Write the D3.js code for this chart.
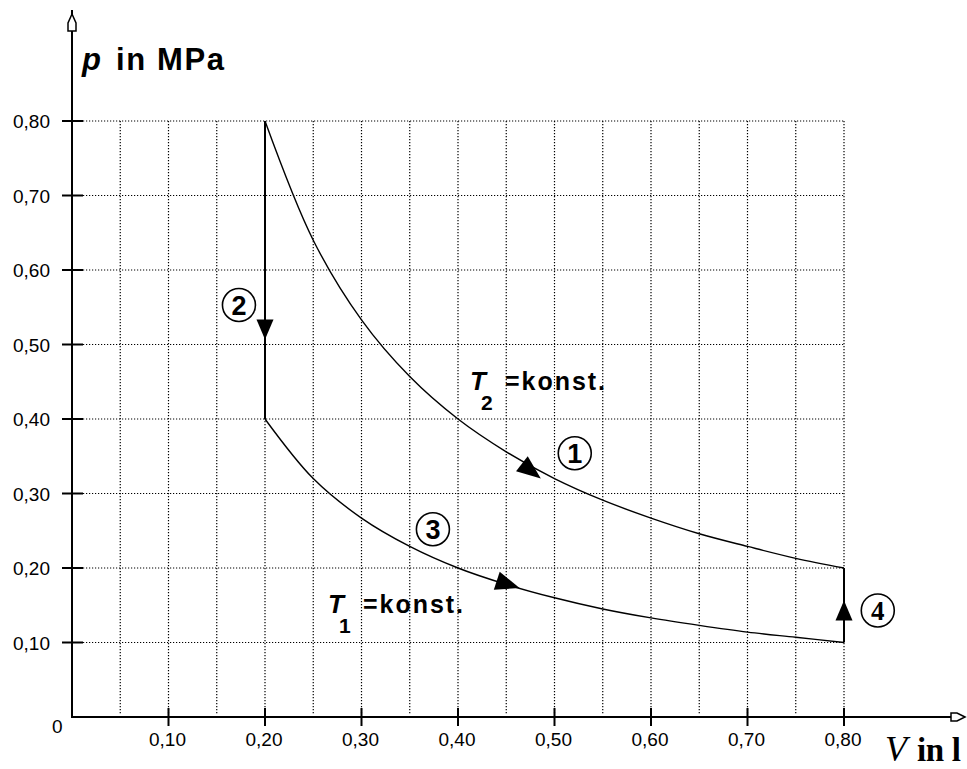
<!DOCTYPE html>
<html>
<head>
<meta charset="utf-8">
<script src="https://cdn.jsdelivr.net/npm/d3@7"></script>
<style>
  body { margin: 0; background: #fff; }
  svg { display: block; }
</style>
</head>
<body>
<div id="chart"></div>
<script>
// values
const volumes   = [0.20, 0.25, 0.30, 0.35, 0.40, 0.45, 0.50, 0.55, 0.60, 0.65, 0.70, 0.75, 0.80];
const pressureT2 = [0.80, 0.64, 0.533, 0.457, 0.40, 0.356, 0.32, 0.291, 0.267, 0.246, 0.229, 0.213, 0.20];
const pressureT1 = [0.40, 0.32, 0.267, 0.229, 0.20, 0.178, 0.16, 0.145, 0.133, 0.123, 0.114, 0.107, 0.10];
const xTicks = [0.10, 0.20, 0.30, 0.40, 0.50, 0.60, 0.70, 0.80];
const yTicks = [0.10, 0.20, 0.30, 0.40, 0.50, 0.60, 0.70, 0.80];
const xGrid  = [0.05, 0.10, 0.15, 0.20, 0.25, 0.30, 0.35, 0.40, 0.45, 0.50, 0.55, 0.60, 0.65, 0.70, 0.75, 0.80];
const stepLabels = ["1", "2", "3", "4"];

const width = 967, height = 769;

const svg = d3.select("#chart")
  .append("svg")
  .attr("width", width)
  .attr("height", height);

const x = d3.scaleLinear().domain([0, 0.8]).range([72, 844]);
const y = d3.scaleLinear().domain([0, 0.8]).range([717, 121]);

const fmt = v => d3.format(".2f")(v).replace(".", ",");

// dotted grid
svg.append("g")
  .selectAll("line")
  .data(xGrid)
  .enter()
  .append("line")
  .attr("x1", d => x(d)).attr("x2", d => x(d))
  .attr("y1", y(0.8)).attr("y2", y(0) - 3)
  .attr("stroke", "#000")
  .attr("stroke-width", 1.2)
  .attr("stroke-dasharray", "1.2,1.8");

svg.append("g")
  .selectAll("line")
  .data(yTicks)
  .enter()
  .append("line")
  .attr("x1", x(0) + 11).attr("x2", x(0.8))
  .attr("y1", d => y(d)).attr("y2", d => y(d))
  .attr("stroke", "#000")
  .attr("stroke-width", 1.2)
  .attr("stroke-dasharray", "1.2,1.8");

// axes
const axes = svg.append("g");
axes.append("line")
  .attr("x1", x(0)).attr("x2", x(0))
  .attr("y1", 10).attr("y2", y(0) + 1)
  .attr("stroke", "#000").attr("stroke-width", 2);
axes.append("line")
  .attr("x1", x(0) - 1).attr("x2", 952)
  .attr("y1", y(0)).attr("y2", y(0))
  .attr("stroke", "#000").attr("stroke-width", 2);

// hollow arrow heads
axes.append("path")
  .attr("d", `M${x(0)},14 L${x(0)+4},23 L${x(0)+4},31 L${x(0)-4},31 L${x(0)-4},23 Z`)
  .attr("fill", "#fff").attr("stroke", "#000").attr("stroke-width", 1.5);
axes.append("path")
  .attr("d", `M965,${y(0)} L957,${y(0)-4} L951,${y(0)-4} L951,${y(0)+4} L957,${y(0)+4} Z`)
  .attr("fill", "#fff").attr("stroke", "#000").attr("stroke-width", 1.5);

// ticks
axes.selectAll(".ytick")
  .data(yTicks)
  .enter()
  .append("line")
  .attr("class", "ytick")
  .attr("x1", x(0) - 10).attr("x2", x(0) + 11)
  .attr("y1", d => y(d)).attr("y2", d => y(d))
  .attr("stroke", "#000").attr("stroke-width", 2);

axes.selectAll(".xtick")
  .data(xTicks)
  .enter()
  .append("line")
  .attr("class", "xtick")
  .attr("x1", d => x(d)).attr("x2", d => x(d))
  .attr("y1", y(0) - 9).attr("y2", y(0) + 9)
  .attr("stroke", "#000").attr("stroke-width", 2);

// tick labels
svg.selectAll(".ylabel")
  .data(yTicks)
  .enter()
  .append("text")
  .attr("class", "ylabel")
  .attr("x", 50)
  .attr("y", d => y(d) + 7)
  .attr("text-anchor", "end")
  .attr("font-family", "Liberation Sans, Arial, sans-serif")
  .attr("font-size", 19)
  .text(d => fmt(d));

svg.selectAll(".xlabel")
  .data(xTicks)
  .enter()
  .append("text")
  .attr("class", "xlabel")
  .attr("x", d => x(d) - 1)
  .attr("y", 746)
  .attr("text-anchor", "middle")
  .attr("font-family", "Liberation Sans, Arial, sans-serif")
  .attr("font-size", 19)
  .text(d => fmt(d));

svg.append("text")
  .attr("x", 52).attr("y", 733)
  .attr("font-family", "Liberation Sans, Arial, sans-serif")
  .attr("font-size", 19)
  .text("0");

// axis titles
const ptitle = svg.append("text")
  .attr("x", 82).attr("y", 70)
  .attr("font-family", "Liberation Sans, Arial, sans-serif")
  .attr("font-weight", "bold");
ptitle.append("tspan").attr("font-style", "italic").attr("font-size", 31).text("p");
ptitle.append("tspan").attr("x", 116).attr("font-size", 31)
  .attr("textLength", 108).attr("lengthAdjust", "spacing").text("in MPa");

const vtitle = svg.append("text")
  .attr("x", 885).attr("y", 761)
  .attr("font-family", "Liberation Serif, Times New Roman, serif");
vtitle.append("tspan").attr("font-style", "italic").attr("font-size", 36).text("V");
vtitle.append("tspan").attr("x", 917).attr("font-weight", "bold").attr("font-size", 33)
  .attr("textLength", 44).attr("lengthAdjust", "spacing").text("in l");

// cycle
const line = d3.line()
  .x(d => x(d[0]))
  .y(d => y(d[1]))
  .curve(d3.curveCatmullRom);

const cycle = svg.append("g").attr("fill", "none").attr("stroke", "#000");

cycle.append("path")
  .datum(volumes.map((v, i) => [v, pressureT2[i]]))
  .attr("d", line)
  .attr("stroke-width", 1.4);

cycle.append("path")
  .datum(volumes.map((v, i) => [v, pressureT1[i]]))
  .attr("d", line)
  .attr("stroke-width", 1.4);

cycle.append("line")
  .attr("x1", x(volumes[0])).attr("x2", x(volumes[0]))
  .attr("y1", y(pressureT2[0])).attr("y2", y(pressureT1[0]))
  .attr("stroke-width", 2);

const last = volumes.length - 1;
cycle.append("line")
  .attr("x1", x(volumes[last])).attr("x2", x(volumes[last]))
  .attr("y1", y(pressureT1[last])).attr("y2", y(pressureT2[last]))
  .attr("stroke-width", 2);

// direction arrows (position in data units, angle in degrees)
const arrows = [
  { v: 0.476, p: 0.330, angle: 38 },
  { v: 0.200, p: 0.520, angle: 90 },
  { v: 0.452, p: 0.178, angle: 18 },
  { v: 0.800, p: 0.143, angle: -90 }
];

svg.selectAll(".arrow")
  .data(arrows)
  .enter()
  .append("path")
  .attr("class", "arrow")
  .attr("d", d => Math.abs(d.angle) === 90
    ? "M10,0 L-10,-8.5 L-10,8.5 Z"
    : "M12,0 L-12,-9.5 L-12,9.5 Z")
  .attr("transform", d => `translate(${x(d.v)},${y(d.p)}) rotate(${d.angle})`)
  .attr("fill", "#000");

// circled step numbers
const steps = [
  { v: 0.521, p: 0.354, font: "Liberation Sans, Arial, sans-serif" },
  { v: 0.173, p: 0.553, font: "Liberation Sans, Arial, sans-serif" },
  { v: 0.374, p: 0.252, font: "Liberation Sans, Arial, sans-serif" },
  { v: 0.835, p: 0.143, font: "Liberation Serif, Times New Roman, serif" }
];

const stepG = svg.selectAll(".step")
  .data(steps)
  .enter()
  .append("g")
  .attr("class", "step")
  .attr("transform", d => `translate(${x(d.v)},${y(d.p)})`);

stepG.append("circle")
  .attr("r", 16.5)
  .attr("fill", "#fff")
  .attr("stroke", "#000")
  .attr("stroke-width", 1.6);

stepG.append("text")
  .attr("text-anchor", "middle")
  .attr("y", 9.5)
  .attr("font-family", d => d.font)
  .attr("font-weight", "bold")
  .attr("font-size", 27)
  .text((d, i) => stepLabels[i]);

// isotherm labels
function isoLabel(px, py, sub) {
  const g = svg.append("g").attr("font-family", "Liberation Sans, Arial, sans-serif").attr("font-weight", "bold");
  g.append("text").attr("x", px).attr("y", py)
    .attr("font-style", "italic").attr("font-size", 26).text("T");
  g.append("text").attr("x", px + 11).attr("y", py + 20)
    .attr("font-size", 21).text(sub);
  g.append("text").attr("x", px + 35).attr("y", py)
    .attr("font-size", 25)
    .attr("textLength", 100).attr("lengthAdjust", "spacing")
    .text("=konst.");
}
isoLabel(470, 390, "2");
isoLabel(328, 613, "1");
</script>
</body>
</html>
